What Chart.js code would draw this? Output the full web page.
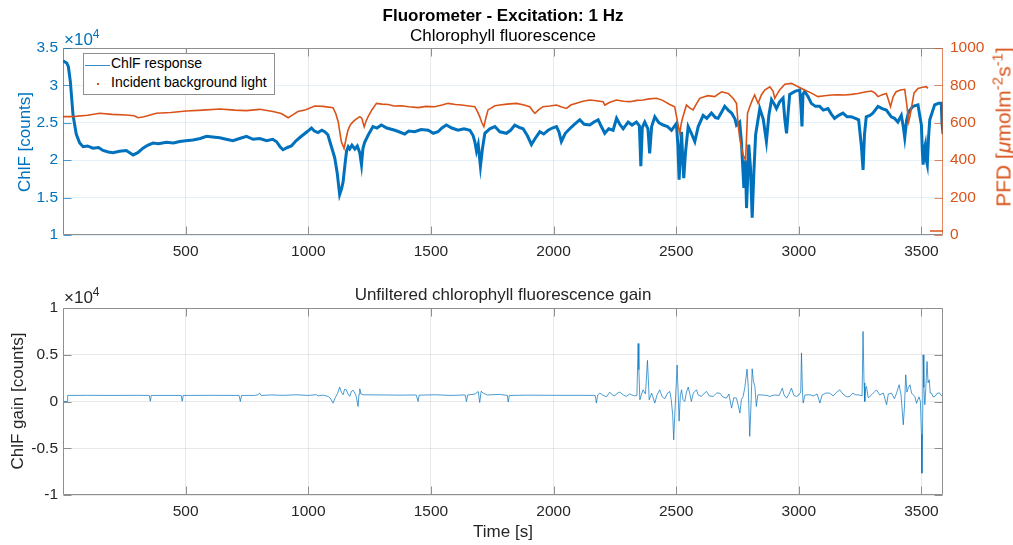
<!DOCTYPE html>
<html>
<head>
<meta charset="utf-8">
<script src="https://cdn.jsdelivr.net/npm/chart.js@4.4.1/dist/chart.umd.min.js"></script>
<style>
  body { margin: 0; background: #fff; }
  #fig { position: relative; width: 1013px; height: 545px; overflow: hidden; background: #fff;
         font-family: 'Liberation Sans', Arial, Helvetica, sans-serif; color: #000; }
  canvas { position: absolute; left: 0; }
  .txt { position: absolute; white-space: nowrap; line-height: normal; }
  .rot { position: absolute; white-space: nowrap; transform: translate(-50%, -50%) rotate(-90deg); }
</style>
</head>
<body>
<div id="fig">
  <canvas id="topChart" width="1013" height="265" style="top:0"></canvas>
  <canvas id="gainChart" width="1013" height="280" style="top:265px"></canvas>

  <div class="txt" style="left:63px; width:880px; top:6px; text-align:center; font-size:17px; font-weight:bold;">Fluorometer - Excitation: 1 Hz</div>
  <div class="txt" style="left:63px; width:880px; top:26px; text-align:center; font-size:17px;">Chlorophyll fluorescence</div>
  <div class="txt" style="left:63px; width:880px; top:285px; text-align:center; font-size:17px; color:#262626;">Unfiltered chlorophyll fluorescence gain</div>
  <div class="txt" style="left:63px; width:880px; top:522px; text-align:center; font-size:17px; color:#262626;">Time [s]</div>

  <div class="txt" style="left:64px; top:27px; font-size:17px; color:#0072BD;">&times;10<sup style="font-size:12px;">4</sup></div>
  <div class="txt" style="left:64px; top:285px; font-size:17px; color:#262626;">&times;10<sup style="font-size:12px;">4</sup></div>

  <div class="rot" style="left:25px; top:142px; font-size:17px; color:#0072BD;">ChlF [counts]</div>
  <div class="rot" style="left:18px; top:401px; font-size:17px; color:#262626;">ChlF gain [counts]</div>
  <div class="rot" style="left:1002px; top:127px; font-size:21px; color:#D95319;">PFD [<i>&mu;</i>molm<sup style="font-size:15px;">-2</sup>s<sup style="font-size:15px;">-1</sup>]</div>

  <div style="position:absolute; left:83px; top:53px; width:190px; height:40px; border:1px solid #8f8f8f; background:#fff;"></div>
  <div style="position:absolute; left:85px; top:65px; width:25px; height:1px; background:rgba(0,114,189,0.8);"></div>
  <div class="txt" style="left:111px; top:55px; font-size:14px;">ChlF response</div>
  <div style="position:absolute; left:97px; top:83px; width:2px; height:2px; background:#D95319;"></div>
  <div class="txt" style="left:111px; top:74px; font-size:14px;">Incident background light</div>
</div>

<script>
// time axis
const timeMin = 0;
const timeMax = 3588;
const timeTicks = [500, 1000, 1500, 2000, 2500, 3000, 3500];

// ChlF response [counts]
const chlfTime = [0, 15, 22, 30, 41, 54, 68, 82, 100, 122, 145, 163, 185, 204, 230, 258, 272, 286, 305, 326,
  345, 367, 390, 421, 450, 476, 500, 530, 560, 585, 610, 639, 665, 693, 720, 748, 775, 802, 830, 855,
  870, 885, 897, 915, 931, 950, 972, 995, 1013, 1025, 1040, 1055, 1067, 1080, 1088, 1100, 1108, 1118, 1128, 1136,
  1142, 1150, 1156, 1163, 1169, 1178, 1190, 1200, 1210, 1217, 1223, 1230, 1245, 1264, 1280, 1298, 1320, 1353, 1370, 1393,
  1410, 1434, 1460, 1489, 1510, 1529, 1545, 1563, 1585, 1611, 1635, 1659, 1672, 1679, 1686, 1693, 1702, 1710, 1720, 1740,
  1761, 1781, 1808, 1825, 1842, 1860, 1876, 1893, 1910, 1925, 1944, 1960, 1978, 1995, 2012, 2022, 2032, 2048, 2066, 2085,
  2107, 2125, 2148, 2165, 2182, 2195, 2209, 2225, 2243, 2257, 2270, 2284, 2304, 2320, 2338, 2350, 2356, 2362, 2372, 2385,
  2392, 2400, 2413, 2430, 2447, 2465, 2481, 2501, 2507, 2512, 2517, 2522, 2527, 2531, 2538, 2549, 2562, 2576, 2590, 2610,
  2625, 2644, 2660, 2671, 2685, 2698, 2712, 2726, 2740, 2746, 2759, 2766, 2776, 2782, 2787, 2792, 2796, 2803, 2810, 2817,
  2824, 2841, 2855, 2868, 2878, 2889, 2900, 2909, 2922, 2936, 2943, 2950, 2957, 2963, 2984, 3004, 3009, 3013, 3017, 3024,
  3038, 3051, 3068, 3085, 3100, 3119, 3132, 3146, 3163, 3180, 3197, 3214, 3231, 3244, 3255, 3262, 3268, 3275, 3290, 3302,
  3323, 3340, 3357, 3377, 3390, 3404, 3418, 3426, 3432, 3440, 3448, 3466, 3486, 3493, 3500, 3504, 3507, 3512, 3516, 3520,
  3524, 3529, 3534, 3554, 3570, 3581, 3584, 3588];
const chlfValue = [33300, 33000, 32500, 30500, 26000, 23500, 22300, 21800, 21900, 21600, 21700, 21300, 21100, 21000, 21200, 21300, 21000, 20700, 21000, 21600,
  22000, 22300, 22200, 22400, 22300, 22500, 22600, 22700, 22900, 23200, 23100, 23000, 22800, 22600, 22900, 23200, 22800, 22900, 22600, 22800,
  22500, 21800, 21400, 21700, 21900, 22600, 23200, 23800, 24300, 23900, 23700, 24000, 23800, 23400, 22500, 21200, 20300, 18300, 15400, 16200,
  17100, 19500, 21200, 21800, 21500, 22000, 21500, 21900, 21000, 19400, 21600, 22400, 23400, 24500, 24300, 24700, 24300, 24000, 23800, 23500,
  23900, 23800, 24100, 24000, 23600, 23800, 24300, 24700, 24300, 24000, 24200, 24000, 23300, 22500, 21200, 22100, 19200, 21500, 23600, 24200,
  24500, 23800, 23600, 24000, 24700, 24400, 24200, 23300, 22100, 22900, 23800, 23500, 24000, 24300, 24500, 23800, 22500, 23600, 24200, 24800,
  25400, 24800, 24700, 25100, 25400, 24500, 23600, 24200, 24000, 25600, 24800, 24200, 25100, 24700, 25100, 24600, 19200, 24400, 25100, 24200,
  20900, 24500, 25800, 25000, 24700, 24500, 24000, 24900, 22000, 17400, 20500, 23800, 20000, 17600, 21000, 24500, 23600, 22500, 24500, 26000,
  25600, 26300, 25700, 25600, 26400, 27200, 26700, 26300, 25500, 24700, 25100, 22500, 16300, 20000, 13600, 18000, 22100, 19000, 12300, 18500,
  23400, 26900, 25500, 22500, 26000, 28100, 27500, 26900, 27800, 28300, 25500, 23600, 26500, 28800, 29200, 29400, 27000, 24500, 28800, 29200,
  28500, 27600, 27200, 27200, 26700, 26900, 26200, 25600, 26000, 26300, 25800, 25800, 25600, 25400, 22000, 18700, 23500, 25800, 26000, 26300,
  27200, 26900, 26700, 25800, 25600, 25100, 26000, 24500, 23000, 25400, 26500, 27200, 27400, 26000, 24700, 21000, 19400, 21500, 22100, 20000,
  19400, 23000, 25400, 27400, 27600, 27600, 25000, 23500];

// Incident background light, PFD [umol m-2 s-1] (null = gap in the record)
const pfdTime = [0, 40, 100, 150, 200, 258, 290, 306, 330, 381, 440, 503, 570, 639, 700, 748, 802, 856, 890, 918,
  940, 958, 990, 1026, 1060, 1101, 1112, 1122, 1130, 1135, 1146, 1155, 1162, 1172, 1183, 1195, 1210, 1218, 1228, 1236,
  1244, 1260, 1278, 1300, 1326, 1350, 1380, 1410, 1448, 1480, 1516, 1545, 1570, 1600, 1625, 1655, 1679, 1690, 1699, 1708,
  1716, 1725, 1733, 1761, 1781, 1810, 1849, 1880, 1903, 1915, 1924, 1940, 1957, 1985, 2012, 2030, 2053, 2070, 2093, 2120,
  2148, 2175, 2202, 2209, 2230, 2257, 2285, 2311, 2340, 2365, 2390, 2420, 2445, 2474, 2494, 2502, 2508, 2515, 2520, 2526,
  2534, 2542, 2555, 2569, 2582, 2596, 2612, 2630, 2657, 2685, 2712, 2732, 2746, 2753, 2758, 2764, 2773, 2783, 2787, 2791,
  2800, 2810, 2820, 2834, 2848, 2861, 2882, 2895, 2902, 2912, 2922, 2943, 2970, 2997, 3024, 3050, 3078, 3105, 3133, 3160,
  3187, 3215, 3241, 3270, 3296, 3310, 3323, 3340, 3357, 3366, 3374, 3385, 3397, 3415, 3432, 3440, 3448, 3454, 3459, 3470,
  3486, 3505, 3520, 3527, 3531, 3535, 3588];
const pfdValue = [633, 633, 640, 651, 645, 642, 638, 627, 632, 651, 655, 663, 668, 674, 668, 665, 672, 660, 650, 627,
  645, 660, 670, 690, 688, 681, 650, 606, 540, 499, 463, 520, 561, 590, 606, 620, 633, 625, 579, 610,
  633, 670, 704, 700, 698, 690, 691, 686, 681, 688, 686, 695, 704, 698, 695, 690, 686, 660, 633, 600,
  579, 630, 669, 691, 695, 700, 704, 695, 686, 665, 651, 670, 686, 690, 695, 686, 677, 695, 704, 715,
  722, 718, 713, 695, 710, 722, 715, 713, 720, 722, 728, 731, 720, 698, 686, 630, 588, 544, 590, 624,
  660, 695, 680, 669, 700, 731, 738, 745, 740, 766, 757, 731, 704, 588, 530, 481, 428, 401, 520, 651,
  686, 720, 749, 704, 750, 775, 793, 770, 731, 755, 775, 806, 811, 793, 775, 760, 740, 745, 749, 750,
  749, 752, 757, 765, 770, 760, 740, 750, 757, 720, 686, 740, 766, 775, 779, 700, 606, 640, 677, 760,
  784, 790, 793, 784, null, 21, 21];

// Unfiltered ChlF gain [counts]
const gainTime = [0, 17, 19, 100, 200, 300, 352, 356, 360, 482, 486, 490, 600, 718, 723, 728, 780, 795, 802, 808,
  850, 900, 950, 1000, 1033, 1040, 1060, 1081, 1090, 1101, 1110, 1120, 1128, 1135, 1142, 1148, 1155, 1162, 1169, 1176,
  1183, 1190, 1196, 1203, 1207, 1210, 1215, 1223, 1300, 1380, 1440, 1448, 1452, 1520, 1580, 1640, 1645, 1650, 1680, 1693,
  1699, 1705, 1713, 1730, 1780, 1812, 1815, 1820, 1900, 2000, 2100, 2170, 2175, 2180, 2189, 2200, 2216, 2229, 2240, 2250,
  2260, 2270, 2285, 2297, 2310, 2318, 2330, 2340, 2345, 2348, 2352, 2358, 2365, 2375, 2383, 2388, 2390, 2400, 2413, 2422,
  2433, 2443, 2454, 2465, 2474, 2480, 2486, 2490, 2496, 2504, 2508, 2512, 2517, 2522, 2528, 2535, 2542, 2549, 2556, 2562,
  2570, 2583, 2590, 2603, 2615, 2624, 2635, 2651, 2665, 2678, 2690, 2705, 2715, 2726, 2735, 2746, 2752, 2760, 2766, 2773,
  2780, 2789, 2794, 2800, 2805, 2810, 2815, 2821, 2827, 2833, 2841, 2870, 2882, 2900, 2920, 2933, 2940, 2950, 2960, 2970,
  2980, 2991, 3000, 3008, 3011, 3015, 3018, 3025, 3045, 3060, 3075, 3086, 3095, 3110, 3126, 3140, 3155, 3167, 3180, 3195,
  3208, 3220, 3233, 3242, 3258, 3262, 3266, 3269, 3273, 3276, 3283, 3290, 3300, 3317, 3330, 3345, 3358, 3365, 3378, 3390,
  3400, 3409, 3417, 3426, 3431, 3436, 3441, 3447, 3453, 3460, 3473, 3480, 3490, 3496, 3500, 3502, 3505, 3507, 3510, 3514,
  3518, 3523, 3527, 3532, 3536, 3541, 3548, 3555, 3565, 3575, 3582, 3588];
const gainValue = [0, 0, 650, 660, 650, 660, 650, 30, 650, 650, 30, 650, 660, 650, 0, 650, 650, 720, 900, 650,
  700, 660, 720, 650, 730, 600, 680, 540, 350, -170, 400, 900, 1540, 1000, 720, 1300, 1250, 800, 550, 1100,
  1200, 900, 500, -530, 800, 1360, 800, 720, 700, 680, 700, 0, 680, 720, 650, 700, 0, 700, 800, 1070,
  -100, 1100, 900, 700, 760, 650, -50, 650, 680, 660, 660, 650, -170, 700, 900, 700, 500, 1000, 700, 600,
  900, 1000, 700, 550, 800, 720, 600, 650, 6200, 3400, 180, 700, 1250, 800, 4400, 1500, 180, 900, -170, 700,
  1250, 500, 300, 900, 1070, 200, -1500, -4100, -500, 3900, 1000, -2100, 600, 1250, 200, 0, 1000, 1540, 800, 0,
  900, 1250, 700, 540, 900, 1070, 600, 540, 900, 900, 500, 350, 800, -710, 400, 350, -300, -1240, 200, 540,
  1500, 3460, 1600, -3730, -500, 3500, 2200, 1610, -530, 700, 720, 650, 540, 700, 650, 1430, 700, 360, 800, 1430,
  650, 540, 700, 1000, 5200, 1000, -170, 700, 720, 600, 800, -170, 700, 900, 900, 600, 1000, 1250, 800, 500,
  540, 900, 700, 720, 600, 7490, 2000, 0, 1500, 1610, 400, 540, 800, 1250, 700, 900, -350, 800, 900, 300,
  1000, 1790, 700, -2490, -500, 2860, 1000, 1500, 1790, 900, 540, -200, 500, 0, -3500, -7670, -2000, 4990, 1500, -350,
  1500, 4280, 2000, 2320, 900, 900, 500, 540, 900, 900, 600, 720];

// left / right / gain axis ticks
const chlfTicks = [10000, 15000, 20000, 25000, 30000, 35000];
const pfdTicks = [0, 200, 400, 600, 800, 1000];
const gainTicks = [-10000, -5000, 0, 5000, 10000];

const blue = '#0072BD';
const orange = '#D95319';
const dark = '#262626';

Chart.defaults.font.family = "'Liberation Sans', Arial, Helvetica, sans-serif";
Chart.defaults.font.size = 15.5;

const toPoints = (xs, ys) => xs.map((x, i) => ({ x: x, y: ys[i] }));
const setTicks = (values) => (scale) => { scale.ticks = values.map(v => ({ value: v })); };

// MATLAB-like box with inward tick marks
function boxPlugin(edges) {
    return {
        id: 'box',
        afterDatasetsDraw(chart) {
            const { ctx, chartArea } = chart;
            const l = Math.round(chartArea.left) + 0.5;
            const r = Math.round(chartArea.right) - 0.5;
            const t = Math.round(chartArea.top) + 0.5;
            const b = Math.round(chartArea.bottom) - 0.5;
            const len = 8;
            ctx.save();
            ctx.lineWidth = 1;
            const line = (x1, y1, x2, y2, c) => {
                ctx.strokeStyle = c;
                ctx.beginPath(); ctx.moveTo(x1, y1); ctx.lineTo(x2, y2); ctx.stroke();
            };
            line(l, t, r, t, edges.top);
            line(l, b, r, b, edges.bottom);
            line(l, t, l, b, edges.left);
            line(r, t, r, b, edges.right);
            const xs = chart.scales.x;
            xs.ticks.forEach(tk => {
                const px = Math.round(xs.getPixelForValue(tk.value)) + 0.5;
                line(px, b, px, b - len, edges.bottom);
                line(px, t, px, t + len, edges.top);
            });
            const ly = chart.scales.y;
            ly.ticks.forEach(tk => {
                const py = Math.round(ly.getPixelForValue(tk.value)) + 0.5;
                line(l, py, l + len, py, edges.left);
                if (!chart.scales.y1) line(r, py, r - len, py, edges.right);
            });
            if (chart.scales.y1) {
                const ry = chart.scales.y1;
                ry.ticks.forEach(tk => {
                    const py = Math.round(ry.getPixelForValue(tk.value)) + 0.5;
                    line(r, py, r - len, py, edges.right);
                });
            }
            ctx.restore();
        }
    };
}

function xScale(height) {
    return {
        type: 'linear', min: timeMin, max: timeMax,
        afterBuildTicks: setTicks(timeTicks),
        afterFit: (s) => { s.height = height; },
        grid: { color: 'rgba(38,38,38,0.10)', drawTicks: false },
        border: { display: false },
        ticks: { color: dark, padding: 7, maxRotation: 0, autoSkip: false, callback: (v) => String(v) }
    };
}

// top panel: fluorescence and background light
new Chart(document.getElementById('topChart'), {
    type: 'line',
    data: {
        datasets: [
            {
                label: 'Incident background light',
                data: toPoints(pfdTime, pfdValue),
                yAxisID: 'y1',
                borderColor: orange,
                borderWidth: 1.6,
                pointRadius: 0,
                spanGaps: false,
                order: 1
            },
            {
                label: 'ChlF response',
                data: toPoints(chlfTime, chlfValue),
                yAxisID: 'y',
                borderColor: blue,
                borderWidth: 3,
                pointRadius: 0,
                order: 2
            }
        ]
    },
    options: {
        responsive: false,
        animation: false,
        layout: { padding: { top: 48, left: 0, right: 0, bottom: 0 } },
        plugins: { legend: { display: false }, tooltip: { enabled: false } },
        scales: {
            x: xScale(30),
            y: {
                position: 'left', min: 10000, max: 35000,
                afterBuildTicks: setTicks(chlfTicks),
                afterFit: (s) => { s.width = 63; },
                grid: { color: 'rgba(0,114,189,0.10)', drawTicks: false },
                border: { display: false },
                ticks: { color: blue, padding: 5, callback: (v) => String(v / 10000) }
            },
            y1: {
                position: 'right', min: 0, max: 1000,
                afterBuildTicks: setTicks(pfdTicks),
                afterFit: (s) => { s.width = 70; },
                grid: { display: false, drawTicks: false },
                border: { display: false },
                ticks: { color: orange, padding: 7, callback: (v) => String(v) }
            }
        }
    },
    plugins: [boxPlugin({ top: '#8f8f8f', bottom: '#8f8f8f', left: 'rgba(0,114,189,0.7)', right: 'rgba(217,83,25,0.7)' })]
});

// bottom panel: unfiltered gain
new Chart(document.getElementById('gainChart'), {
    type: 'line',
    data: {
        datasets: [{
            label: 'ChlF gain',
            data: toPoints(gainTime, gainValue),
            borderColor: 'rgba(0,114,189,0.7)',
            borderWidth: 1,
            pointRadius: 0
        }]
    },
    options: {
        responsive: false,
        animation: false,
        layout: { padding: { top: 43, left: 0, right: 70, bottom: 0 } },
        plugins: { legend: { display: false }, tooltip: { enabled: false } },
        scales: {
            x: xScale(50),
            y: {
                position: 'left', min: -10000, max: 10000,
                afterBuildTicks: setTicks(gainTicks),
                afterFit: (s) => { s.width = 63; },
                grid: { color: 'rgba(38,38,38,0.10)', drawTicks: false },
                border: { display: false },
                ticks: { color: dark, padding: 5, callback: (v) => String(v / 10000) }
            }
        }
    },
    plugins: [boxPlugin({ top: '#8f8f8f', bottom: '#8f8f8f', left: '#8f8f8f', right: '#8f8f8f' })]
});
</script>
</body>
</html>
